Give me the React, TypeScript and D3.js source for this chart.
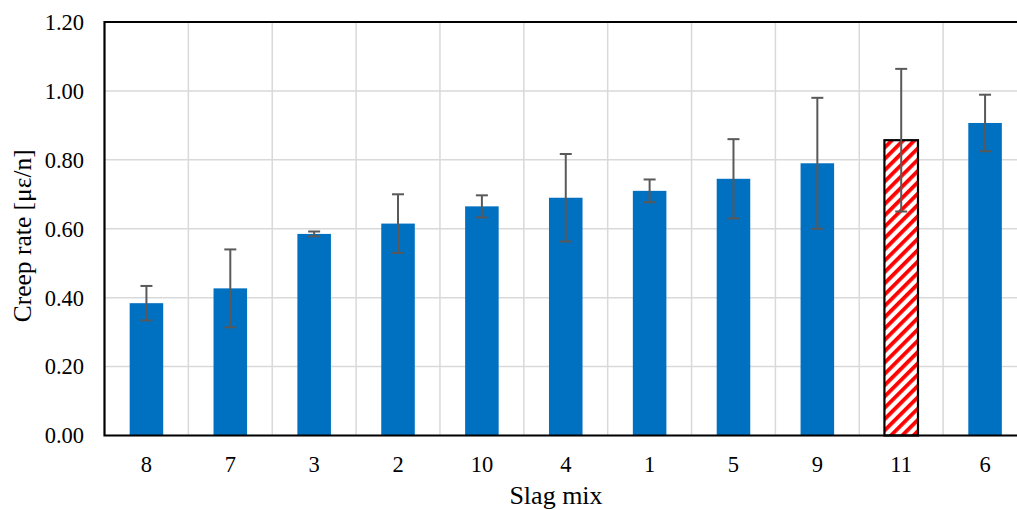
import React from "react";
import * as d3 from "d3";

const categories = ["8", "7", "3", "2", "10", "4", "1", "5", "9", "11", "6"];
const values = [0.384, 0.427, 0.585, 0.615, 0.665, 0.69, 0.71, 0.745, 0.79, 0.857, 0.907];
const errors = [0.05, 0.113, 0.007, 0.085, 0.032, 0.127, 0.033, 0.115, 0.19, 0.207, 0.082];
const highlighted = ["11"];
const yTicks = [0, 0.2, 0.4, 0.6, 0.8, 1.0, 1.2];

const W = 1017;
const H = 510;
const left = 104.5;
const right = 1027;
const top = 22;
const bottom = 435.5;

export default function App() {
  const x = d3.scaleBand<string>().domain(categories).range([left, right]).paddingInner(0).paddingOuter(0);
  const y = d3.scaleLinear().domain([0, 1.2]).range([bottom, top]);
  const bw = x.bandwidth() * 0.4;
  const font = "'Liberation Serif', 'Times New Roman', serif";
  return (
    <svg width={W} height={H} style={{ position: "absolute", left: 0, top: 0, display: "block" }}>
      <defs>
        <pattern id="hatch" width="8" height="8" patternUnits="userSpaceOnUse" patternTransform="rotate(45)">
          <rect width="8" height="8" fill="#ffffff" />
          <rect x="0" y="0" width="3.8" height="8" fill="#ff0000" />
        </pattern>
      </defs>
      <rect x={0} y={0} width={W} height={H} fill="#ffffff" />
      {yTicks.map((t) => (
        <line key={"h" + t} x1={left} x2={right} y1={y(t)} y2={y(t)} stroke="#d9d9d9" strokeWidth={1.5} />
      ))}
      {categories.slice(1).map((c) => (
        <line key={"v" + c} x1={x(c)!} x2={x(c)!} y1={top} y2={bottom} stroke="#d9d9d9" strokeWidth={1.5} />
      ))}
      {categories.map((c, i) => {
        const cx = x(c)! + x.bandwidth() / 2;
        const hl = highlighted.includes(c);
        return (
          <rect
            key={"b" + c}
            x={cx - bw / 2}
            y={y(values[i])}
            width={bw}
            height={bottom - y(values[i])}
            fill={hl ? "url(#hatch)" : "#0070C0"}
            stroke={hl ? "#000000" : "none"}
            strokeWidth={hl ? 2.2 : 0}
          />
        );
      })}
      {categories.map((c, i) => {
        const cx = x(c)! + x.bandwidth() / 2;
        const y1 = y(values[i] + errors[i]);
        const y2 = y(values[i] - errors[i]);
        return (
          <g key={"e" + c} stroke="#595959" strokeWidth={2}>
            <line x1={cx} x2={cx} y1={y1} y2={y2} />
            <line x1={cx - 6} x2={cx + 6} y1={y1} y2={y1} />
            <line x1={cx - 6} x2={cx + 6} y1={y2} y2={y2} />
          </g>
        );
      })}
      <path d={`M${right},${top}H${left}V${bottom}H${right}`} fill="none" stroke="#000000" strokeWidth={2.2} />
      {yTicks.map((t) => (
        <text key={"yt" + t} x={84} y={y(t)} dy="0.35em" textAnchor="end" fontFamily={font} fontSize={22.5} fill="#000">
          {t.toFixed(2)}
        </text>
      ))}
      {categories.map((c) => (
        <text key={"xt" + c} x={x(c)! + x.bandwidth() / 2} y={472} textAnchor="middle" fontFamily={font} fontSize={22.5} fill="#000">
          {c}
        </text>
      ))}
      <text x={556} y={504} textAnchor="middle" fontFamily={font} fontSize={26} fill="#000">
        Slag mix
      </text>
      <text transform={`translate(31,${(top + bottom) / 2 + 7}) rotate(-90)`} textAnchor="middle" fontFamily={font} fontSize={25.5} fill="#000">
        Creep rate [με/n]
      </text>
    </svg>
  );
}
